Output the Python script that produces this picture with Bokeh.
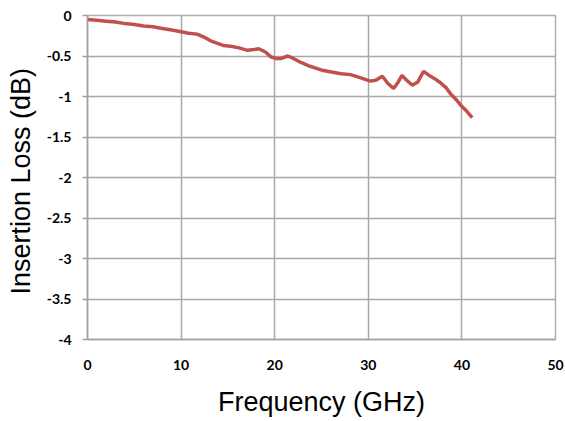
from bokeh.plotting import figure
from bokeh.models import Range1d, FixedTicker
from bokeh.embed import file_html
from bokeh.resources import INLINE

freq = [0.0, 1.0, 2.0, 3.0, 4.0, 5.0, 6.0, 7.0, 8.0, 9.0, 10.0, 10.8, 11.7, 12.5,
        13.3, 14.5, 15.3, 16.2, 17.1, 17.8, 18.3, 19.0, 19.6, 20.1, 20.7, 21.4,
        22.0, 22.8, 23.6, 24.4, 25.2, 26.2, 27.1, 28.1, 29.2, 30.2, 30.8, 31.5,
        32.1, 32.7, 33.2, 33.6, 34.1, 34.7, 35.3, 35.9, 36.5, 37.1, 37.7, 38.3,
        38.8, 39.4, 39.9, 40.5, 41.1]
loss = [-0.05, -0.06, -0.07, -0.08, -0.10, -0.11, -0.13, -0.14, -0.16, -0.18, -0.20, -0.22, -0.23, -0.27,
        -0.32, -0.37, -0.38, -0.40, -0.43, -0.42, -0.41, -0.45, -0.51, -0.53, -0.53, -0.50,
        -0.53, -0.58, -0.62, -0.65, -0.68, -0.70, -0.72, -0.73, -0.77, -0.81, -0.80, -0.75,
        -0.84, -0.90, -0.82, -0.74, -0.80, -0.86, -0.82, -0.69, -0.74, -0.78, -0.83, -0.89,
        -0.97, -1.04, -1.11, -1.18, -1.26]

x_ticks = [0, 10, 20, 30, 40, 50]
y_ticks = [0, -0.5, -1, -1.5, -2, -2.5, -3, -3.5, -4]

p = figure(width=565, height=421, output_backend="svg", toolbar_location=None,
           x_range=Range1d(0, 50), y_range=Range1d(-4, 0),
           min_border_left=87, min_border_right=10, min_border_top=15, min_border_bottom=82)
p.outline_line_color = "#b0b0b0"
p.outline_line_width = 1.5

p.line(freq, loss, line_color="#C0504D", line_width=3.5)

p.xaxis.ticker = FixedTicker(ticks=x_ticks)
p.yaxis.ticker = FixedTicker(ticks=y_ticks)
p.yaxis.major_label_overrides = {t: ("%g" % t) for t in y_ticks}

for ax in (p.xaxis[0], p.yaxis[0]):
    ax.axis_line_color = "#a0a0a0"
    ax.axis_line_width = 1.5
    ax.minor_tick_line_color = None
    ax.major_label_text_font = "Lato"
    ax.major_label_text_font_style = "bold"
    ax.major_label_text_font_size = "14px"
    ax.major_label_text_color = "black"
    ax.axis_label_text_font = "Liberation Sans"
    ax.axis_label_text_font_style = "normal"
    ax.axis_label_text_font_size = "27px"
    ax.axis_label_text_color = "black"

p.xaxis.major_tick_line_color = None
p.xaxis.major_label_standoff = 14
p.xaxis.axis_label = "Frequency (GHz)"
p.xaxis.axis_label_standoff = 14

p.yaxis.major_tick_line_color = "#a0a0a0"
p.yaxis.major_tick_line_width = 1.5
p.yaxis.major_tick_out = 5
p.yaxis.major_tick_in = 0
p.yaxis.major_label_standoff = 11
p.yaxis.axis_label = "Insertion Loss  (dB)"
p.yaxis.axis_label_standoff = 8

p.xgrid.grid_line_color = "#a8a8a8"
p.ygrid.grid_line_color = "#a8a8a8"
p.xgrid.grid_line_width = 1.5
p.ygrid.grid_line_width = 1.5

open("out.html", "w").write(file_html(p, INLINE))
